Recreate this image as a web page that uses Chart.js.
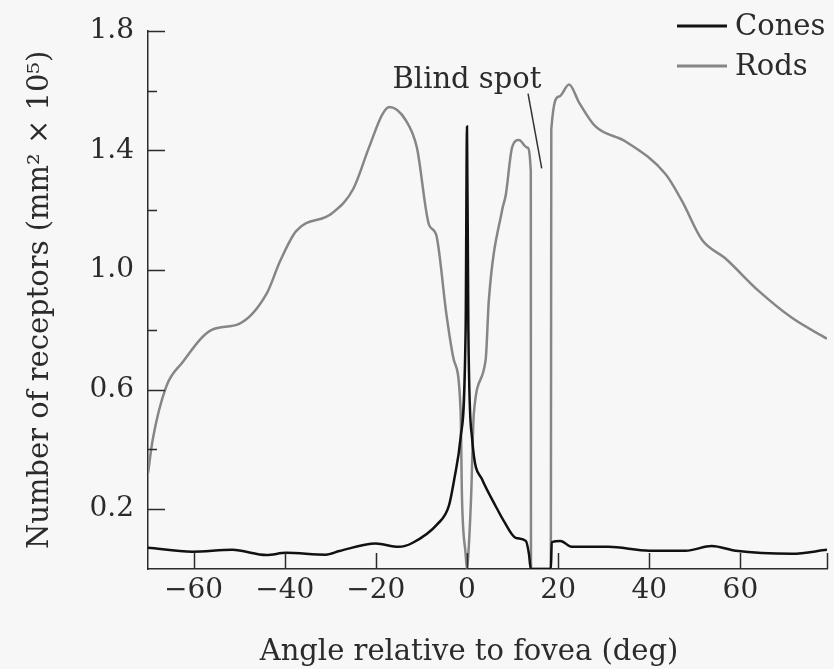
<!DOCTYPE html>
<html>
<head>
<meta charset="utf-8">
<script src="https://cdn.jsdelivr.net/npm/chart.js@4.4.1/dist/chart.umd.min.js"></script>
<style>
  body { margin: 0; background: #f7f7f7; }
  #wrap { width: 834px; height: 669px; }
</style>
</head>
<body>
<div id="wrap"><canvas id="chart"></canvas></div>
<script>
// receptor density (x: deg from fovea, y: per mm2 x 10^5)
const rodsAngle = [-70, -69, -66, -62.5, -56, -50, -44, -41, -37.5, -29.6, -25, -21.5, -18.6, -17, -13.4, -11, -8.3, -6.8, -4.5, -2.9, -1.4, -1.1, -0.3, 0, 0.3, 0.9, 1.5, 4.1, 4.8, 7.7, 8.5, 9.9, 11.4, 13.2, 14, 14.05, 18.4, 18.5, 20.2, 22.4, 24.6, 28.2, 34.8, 43.6, 47.2, 51.6, 56.6, 64, 71.3, 79];
const rodsDensity = [0.32, 0.43, 0.61, 0.69, 0.80, 0.82, 0.92, 1.03, 1.13, 1.19, 1.27, 1.41, 1.52, 1.545, 1.50, 1.41, 1.15, 1.12, 0.85, 0.70, 0.53, 0.24, 0.05, 0, 0.05, 0.24, 0.52, 0.70, 0.90, 1.20, 1.25, 1.41, 1.435, 1.41, 1.33, 0, 0, 1.47, 1.58, 1.62, 1.56, 1.48, 1.43, 1.32, 1.23, 1.10, 1.04, 0.93, 0.84, 0.77];

const conesAngle = [-70, -60.3, -51.5, -44, -39.7, -31, -28, -20, -15, -12, -6.5, -4, -2.8, -1.4, -0.3, 0, 0.3, 1.1, 3.3, 6.3, 8.1, 10.7, 12.9, 13.6, 14, 18.4, 18.6, 20.5, 23, 31, 40, 48, 53.7, 59, 71.3, 79];
const conesDensity = [0.071, 0.058, 0.064, 0.047, 0.054, 0.048, 0.06, 0.085, 0.074, 0.087, 0.15, 0.21, 0.30, 0.44, 0.8, 1.48, 0.8, 0.44, 0.30, 0.21, 0.16, 0.104, 0.094, 0.05, 0, 0, 0.09, 0.094, 0.074, 0.074, 0.061, 0.061, 0.077, 0.061, 0.051, 0.064];

// pointer from the "Blind spot" label
const pointerAngle = [13.4, 16.4];
const pointerDensity = [1.59, 1.34];

const xTickValues = [-60, -40, -20, 0, 20, 40, 60];
const xTickLabels = ['\u221260', '\u221240', '\u221220', '0', '20', '40', '60'];
const yTickValues = [0.2, 0.4, 0.6, 0.8, 1.0, 1.2, 1.4, 1.6, 1.8];
const yTickLabels = ['0.2', '', '0.6', '', '1.0', '', '1.4', '', '1.8'];

const FONT = '"DejaVu Serif", serif';
const INK = '#2b2b2b';

function pairs(xs, ys) {
  return xs.map((x, i) => ({x: x, y: ys[i]}));
}

// inward tick marks, legend, x title and the blind spot label
const extras = {
  id: 'extras',
  afterDraw(chart) {
    const ctx = chart.ctx;
    const xs = chart.scales.x, ys = chart.scales.y;
    const a = chart.chartArea;
    ctx.save();
    ctx.strokeStyle = INK;
    ctx.lineWidth = 1.5;
    ctx.beginPath();
    xTickValues.concat([xs.max]).forEach(v => {
      const px = Math.round(xs.getPixelForValue(v)) + 0.5;
      ctx.moveTo(px, a.bottom);
      ctx.lineTo(px, a.bottom - 16);
    });
    yTickValues.forEach((v, i) => {
      const py = Math.round(ys.getPixelForValue(v)) + 0.5;
      ctx.moveTo(a.left, py);
      ctx.lineTo(a.left + (yTickLabels[i] ? 17 : 9), py);
    });
    ctx.stroke();

    // legend
    ctx.font = '29px ' + FONT;
    ctx.textBaseline = 'middle';
    ctx.fillStyle = INK;
    chart.data.datasets.forEach((ds, i) => {
      if (!ds.inLegend) return;
      const y = 26 + i * 40;
      ctx.strokeStyle = ds.borderColor;
      ctx.lineWidth = ds.borderWidth + 0.5;
      ctx.beginPath();
      ctx.moveTo(a.right - 150, y);
      ctx.lineTo(a.right - 100, y);
      ctx.stroke();
      ctx.fillText(ds.label, a.right - 92, y + 1);
    });

    ctx.textAlign = 'center';
    ctx.textBaseline = 'alphabetic';
    ctx.fillText('Angle relative to fovea (deg)', xs.getPixelForValue(0) + 2, chart.height - 9);

    ctx.fillText('Blind spot', xs.getPixelForValue(0), ys.getPixelForValue(1.61));
    ctx.restore();
  }
};

new Chart(document.getElementById('chart'), {
  type: 'scatter',
  data: {
    datasets: [
      {
        label: 'Cones', inLegend: true,
        data: pairs(conesAngle, conesDensity),
        showLine: true, borderColor: '#111111', borderWidth: 2.5,
        pointRadius: 0, cubicInterpolationMode: 'monotone'
      },
      {
        label: 'Rods', inLegend: true,
        data: pairs(rodsAngle, rodsDensity),
        showLine: true, borderColor: '#868686', borderWidth: 2.5,
        pointRadius: 0, cubicInterpolationMode: 'monotone'
      },
      {
        label: 'pointer',
        data: pairs(pointerAngle, pointerDensity),
        showLine: true, borderColor: '#333333', borderWidth: 1.5,
        pointRadius: 0
      }
    ]
  },
  options: {
    responsive: true,
    maintainAspectRatio: false,
    animation: false,
    layout: { padding: { top: 28, right: 7, left: 0, bottom: 0 } },
    plugins: { legend: { display: false }, tooltip: { enabled: false } },
    scales: {
      x: {
        type: 'linear', min: -70, max: 79,
        afterBuildTicks: s => { s.ticks = xTickValues.map(v => ({value: v})); },
        afterFit: s => { s.height = 100; },
        grid: { display: true, drawOnChartArea: false, drawTicks: false },
        border: { display: true, color: INK, width: 1.5 },
        ticks: {
          padding: 5, color: INK, font: { family: FONT, size: 28 },
          maxRotation: 0, autoSkip: false,
          callback: (v, i) => xTickLabels[i]
        },
        title: { display: false }
      },
      y: {
        min: 0, max: 1.8,
        afterBuildTicks: s => { s.ticks = yTickValues.map(v => ({value: v})); },
        afterFit: s => { s.width = 148; },
        grid: { display: true, drawOnChartArea: false, drawTicks: false },
        border: { display: true, color: INK, width: 1.5 },
        ticks: {
          padding: 14, color: INK, font: { family: FONT, size: 28 },
          autoSkip: false,
          callback: (v, i) => yTickLabels[i]
        },
        title: {
          display: true, text: 'Number of receptors (mm\u00b2 \u00d7 10\u2075)', color: INK,
          font: { family: FONT, size: 29, lineHeight: 1.2 },
          padding: { top: 23, bottom: 0 }
        }
      }
    }
  },
  plugins: [extras]
});
</script>
</body>
</html>
